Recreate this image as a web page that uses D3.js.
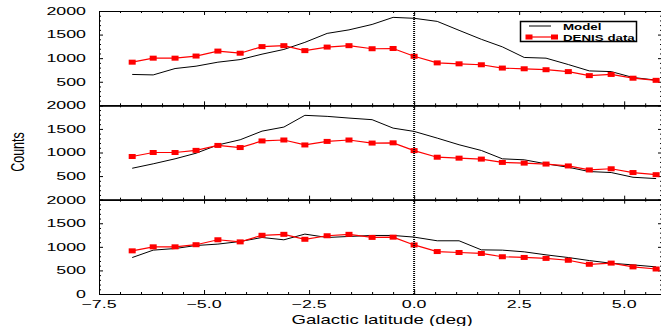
<!DOCTYPE html>
<html><head><meta charset="utf-8">
<script src="https://cdn.jsdelivr.net/npm/d3@7"></script>
<style>body{margin:0;background:#fff}svg{display:block}</style>
</head><body>
<svg id="c" width="661" height="326"></svg>
<script>
// Data
const latitudes = [-6.71, -6.21, -5.69, -5.19, -4.67, -4.14, -3.62, -3.10, -2.60, -2.07, -1.55, -1.00, -0.50, 0.00, 0.55, 1.07, 1.60, 2.10, 2.62, 3.14, 3.67, 4.17, 4.69, 5.21, 5.76];
const denisData = [915, 1000, 1000, 1045, 1150, 1105, 1245, 1265, 1160, 1235, 1265, 1200, 1205, 1040, 900, 880, 860, 790, 775, 755, 715, 630, 655, 575, 530];
const modelTop = [655, 645, 780, 830, 915, 970, 1085, 1185, 1335, 1525, 1600, 1715, 1865, 1845, 1780, 1590, 1400, 1240, 1015, 1000, 865, 730, 715, 590, 535];
const modelMid = [666, 760, 866, 985, 1160, 1270, 1453, 1539, 1788, 1766, 1730, 1696, 1517, 1447, 1305, 1164, 1043, 866, 845, 760, 687, 596, 575, 475, 447];
const modelBot = [773, 930, 964, 1028, 1058, 1113, 1198, 1149, 1270, 1198, 1220, 1241, 1241, 1206, 1128, 1128, 936, 930, 894, 830, 773, 709, 652, 617, 575];
const models = [modelTop, modelMid, modelBot];
const xTicks = [-7.5, -5.0, -2.5, 0.0, 2.5, 5.0];
const yTicks = [500, 1000, 1500, 2000];
const legendLabels = ["Model", "DENIS data"];
const xTitle = "Galactic latitude (deg)";
const yTitle = "Counts";

const svg = d3.select("#c");
const pLeft = 99, pRight = 662, pTop = 11, pBottom = 294;
const ph = (pBottom - pTop) / 3;
const SX = 1.62;
const FONT = "'Liberation Sans', Arial, Helvetica, sans-serif";

const x = d3.scaleLinear().domain([-7.5, 5.9]).range([pLeft, pRight]);
const xMinor = d3.range(-7.5, 6.01, 0.5).filter(v => Math.abs(v / 2.5 - Math.round(v / 2.5)) > 1e-6);
const yMinorVals = d3.range(0, 2001, 100).filter(v => v % 500 !== 0);

function styleAxis(g) {
  g.select(".domain").attr("stroke", "#000").attr("stroke-width", 1);
  g.selectAll(".tick line").attr("stroke", "#000").attr("stroke-width", 1);
  g.selectAll(".tick text").remove();
}

models.forEach((model, i) => {
  const pt = pTop + i * ph, pb = pt + ph;
  const y = d3.scaleLinear().domain([0, 2000]).range([pb, pt]);
  const gp = svg.append("g");

  gp.append("g").attr("transform", `translate(${pLeft},0)`)
    .call(d3.axisLeft(y).tickValues([0, ...yTicks]).tickSize(-4).tickSizeOuter(0).tickFormat("")).call(styleAxis);
  gp.append("g").attr("transform", `translate(${pLeft},0)`)
    .call(d3.axisLeft(y).tickValues(yMinorVals).tickSize(-2).tickSizeOuter(0).tickFormat("")).call(styleAxis);
  gp.append("g").attr("transform", `translate(${pRight},0)`)
    .call(d3.axisRight(y).tickValues([0, ...yTicks]).tickSize(-4).tickSizeOuter(0).tickFormat("")).call(styleAxis);
  gp.append("g").attr("transform", `translate(${pRight},0)`)
    .call(d3.axisRight(y).tickValues(yMinorVals).tickSize(-2).tickSizeOuter(0).tickFormat("")).call(styleAxis);
  gp.append("g").attr("transform", `translate(0,${pt})`)
    .call(d3.axisTop(x).tickValues(xTicks).tickSize(-4).tickSizeOuter(0).tickFormat("")).call(styleAxis);
  gp.append("g").attr("transform", `translate(0,${pt})`)
    .call(d3.axisTop(x).tickValues(xMinor).tickSize(-2).tickSizeOuter(0).tickFormat("")).call(styleAxis);
  gp.append("g").attr("transform", `translate(0,${pb})`)
    .call(d3.axisBottom(x).tickValues(xTicks).tickSize(-4).tickSizeOuter(0).tickFormat("")).call(styleAxis);
  gp.append("g").attr("transform", `translate(0,${pb})`)
    .call(d3.axisBottom(x).tickValues(xMinor).tickSize(-2).tickSizeOuter(0).tickFormat("")).call(styleAxis);

  const labs = i === 2 ? [0, ...yTicks] : yTicks;
  labs.forEach(v => {
    gp.append("text").attr("transform", `translate(86,${y(v)}) scale(${SX},1)`)
      .attr("text-anchor", "end").attr("dy", "0.35em")
      .attr("font-family", FONT).attr("font-size", 11).attr("fill", "#000").text(v);
  });

  const line = d3.line().x((d, j) => x(latitudes[j])).y(d => y(d));
  gp.append("path").datum(model).attr("d", line).attr("fill", "none").attr("stroke", "#000").attr("stroke-width", 1);
  gp.append("path").datum(denisData).attr("d", line).attr("fill", "none").attr("stroke", "#ff0000").attr("stroke-width", 1.2);
  gp.selectAll("rect.m").data(denisData).join("rect").attr("class", "m")
    .attr("x", (d, j) => x(latitudes[j]) - 3.5).attr("y", d => y(d) - 2.5)
    .attr("width", 7).attr("height", 5).attr("fill", "#ff0000");
});

svg.append("line").attr("x1", x(0)).attr("x2", x(0)).attr("y1", pTop).attr("y2", pBottom)
  .attr("stroke", "#000").attr("stroke-width", 2).attr("stroke-dasharray", "1,1");

const fmt = d3.format(".1f");
xTicks.forEach(v => {
  svg.append("text").attr("transform", `translate(${x(v)},308) scale(${SX},1)`)
    .attr("text-anchor", "middle").attr("font-family", FONT).attr("font-size", 11).attr("fill", "#000").text(fmt(v));
});

svg.append("text").attr("transform", `translate(382,324) scale(1.49,1)`)
  .attr("text-anchor", "middle").attr("font-family", FONT).attr("font-size", 12.5).attr("fill", "#000").text(xTitle);
svg.append("text").attr("transform", `translate(24,152) scale(1.4,1) rotate(-90)`)
  .attr("text-anchor", "middle").attr("font-family", FONT).attr("font-size", 12.5).attr("fill", "#000").text(yTitle);

const lg = svg.append("g");
lg.append("rect").attr("x", 520.5).attr("y", 21.5).attr("width", 116).attr("height", 20)
  .attr("fill", "#fff").attr("stroke", "#000").attr("stroke-width", 1.5);
lg.append("line").attr("x1", 529).attr("x2", 551).attr("y1", 26).attr("y2", 26).attr("stroke", "#000").attr("stroke-width", 1);
lg.append("line").attr("x1", 529).attr("x2", 554.5).attr("y1", 37).attr("y2", 37).attr("stroke", "#ff0000").attr("stroke-width", 1.2);
[529, 554.5].forEach(cx => lg.append("rect").attr("x", cx - 3.5).attr("y", 34.5).attr("width", 7).attr("height", 5).attr("fill", "#ff0000"));
legendLabels.forEach((t, k) => {
  lg.append("text").attr("transform", `translate(563,${29.5 + k * 11.3}) scale(1.48,1)`)
    .attr("font-family", FONT).attr("font-weight", "bold").attr("font-size", 9).attr("fill", "#000").text(t);
});
</script>
</body></html>
